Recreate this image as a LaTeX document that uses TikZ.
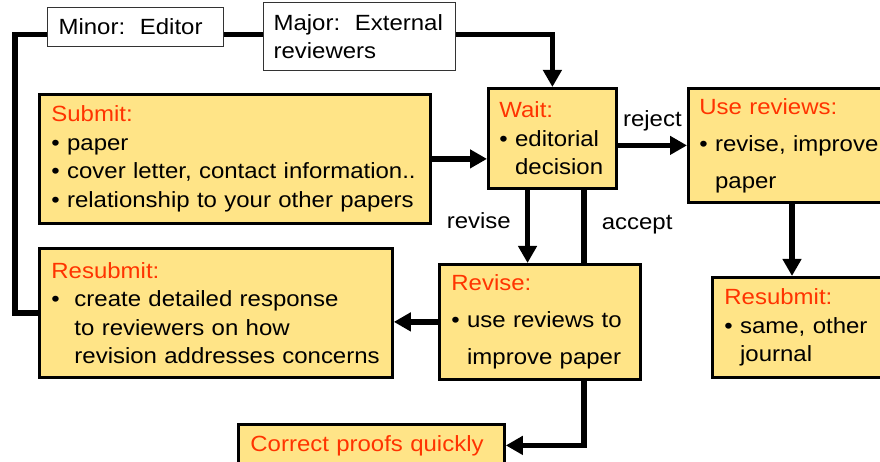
\documentclass[tikz,border=0pt]{standalone}
\usepackage{fontspec}
\setmainfont{Liberation Sans}[FakeStretch=1.09]
\usepackage{tikz}
\usetikzlibrary{arrows.meta,calc,positioning}
\pgfdeclarelayer{background}
\pgfsetlayers{background,main}
\definecolor{boxyellow}{RGB}{255,228,135}
\definecolor{headred}{RGB}{255,51,0}
\newcommand{\itembul}[1]{\mbox{\textbullet\ #1}}
\newcommand{\itemcont}[1]{\mbox{\phantom{\textbullet\ }#1}}

\begin{document}
\begin{tikzpicture}[x=1pt,y=-1pt,
    font=\fontsize{22}{28.5}\selectfont,
    ybox/.style={anchor=north west,draw=black,line width=2.8pt,fill=boxyellow,
      align=left,inner xsep=12pt,inner ysep=0pt},
    wbox/.style={anchor=north west,draw=black!80,line width=1.2pt,fill=white,
      align=left,inner xsep=11pt,inner ysep=0pt},
    conn/.style={line width=5.5pt,-{Triangle[length=17pt,width=18pt]}},
    lbl/.style={inner sep=0pt}]
  \useasboundingbox (0,0) rectangle (880,462);

  % boxes
  \node[wbox, text width=154pt, minimum height=39pt] (minor) at (47,7) {Minor:\ \ Editor};
  \node[wbox, text width=172pt, minimum height=68pt, inner xsep=10pt] (major) at (263,2)
    {Major:\ \ External\\reviewers};

  \node[ybox, text width=367pt, minimum height=129pt] (submit) at (38,93)
    {{\color{headred}Submit:}\\ \itembul{paper}\\
     \itembul{cover letter, contact information..}\\
     \itembul{relationship to your other papers}};
  \node[ybox, text width=106pt, minimum height=100pt, inner xsep=11pt] (wait) at (487,87)
    {{\color{headred}Wait:}\\ \itembul{editorial}\\ \itemcont{decision}};
  \node[ybox, text width=193pt, minimum height=114pt, inner xsep=11pt] (usereviews) at (687,87)
    {{\color{headred}Use reviews:}\\[8.5pt] \itembul{revise, improve}\\[8.5pt] \itemcont{paper}};

  \node[ybox, text width=329pt, minimum height=129pt] (resubmitA) at (38,247)
    {{\color{headred}Resubmit:}\\
     \mbox{\textbullet\ \ create detailed response}\\
     \mbox{\phantom{\textbullet\ \ }to reviewers on how}\\
     \mbox{\phantom{\textbullet\ \ }revision addresses concerns}};
  \node[ybox, text width=177pt, minimum height=115pt] (revise) at (438,263)
    {{\color{headred}Revise:}\\[8.5pt] \itembul{use reviews to}\\[8.5pt] \itemcont{improve paper}};
  \node[ybox, text width=166pt, minimum height=100pt] (resubmitB) at (711,276)
    {{\color{headred}Resubmit:}\\ \itembul{same, other}\\ \itemcont{journal}};

  \node[ybox, text width=242pt, minimum height=42pt] (proofs) at (237,423)
    {{\color{headred}Correct proofs quickly}};

  % connectors
  \coordinate (loopcorner) at (15,34.5);
  \coordinate (revisestart) at ($(wait.south west)!0.31!(wait.south east)$);
  \coordinate (acceptstart) at ($(wait.south west)!0.742!(wait.south east)$);
  \coordinate (resubstart) at ($(usereviews.south west)+(105,0)$);

  \begin{pgfonlayer}{background}
    \draw[conn] (resubmitA.west) -| (loopcorner) -| (wait.north);
    \draw[conn] (acceptstart) -- node[lbl, right=15pt, pos=0.136] (accepttext) {accept}
      (acceptstart |- proofs.east) -- (proofs.east);
  \end{pgfonlayer}

  \draw[conn] (submit.east) -- (submit.east -| wait.west);
  \draw[conn] (usereviews.west -| wait.east) -- node[lbl, above=12pt] (rejecttext) {reject}
    (usereviews.west);
  \draw[conn] (revisestart) -- node[lbl, left=14pt, pos=0.42] (revisetext) {revise}
    (revisestart |- revise.north);
  \draw[conn] (revise.west) -- (revise.west -| resubmitA.east);
  \draw[conn] (resubstart) -- (resubstart |- resubmitB.north);
\end{tikzpicture}
\end{document}
